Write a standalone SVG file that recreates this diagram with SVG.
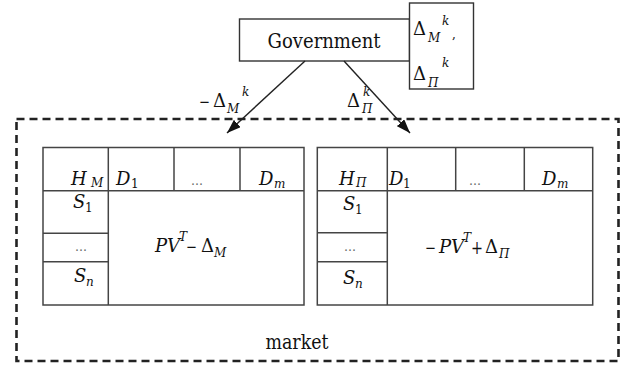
<svg xmlns="http://www.w3.org/2000/svg" width="622" height="365" viewBox="0 0 622 365">
<style>
text{font-family:"DejaVu Serif",serif;fill:#111}
.box{fill:#fff;stroke:#333;stroke-width:1.4}
.tl{fill:none;stroke:#444;stroke-width:1.5}
.m{font-size:18px}
.i{font-style:italic}
.s{font-size:12px}
.dots{font-size:12px;fill:#666}
.conn{stroke:#222;stroke-width:1.4;fill:none}
</style>
<defs>
<marker id="ah" viewBox="0 0 14 10" refX="14" refY="5" markerWidth="14" markerHeight="10" markerUnits="userSpaceOnUse" orient="auto">
<path d="M0,0 L14,5 L0,10 Z" fill="#111"/>
</marker>
</defs>
<rect width="622" height="365" fill="#fff"/>

<g id="market">
<rect x="16.5" y="119" width="602" height="242" fill="none" stroke="#222" stroke-width="2.6" stroke-dasharray="8,5"/>
<text x="265.5" y="349" font-size="20" textLength="63" lengthAdjust="spacingAndGlyphs">market</text>
</g>

<g id="government">
<rect class="box" x="239.5" y="19" width="170" height="42"/>
<text x="267.5" y="48" font-size="20" textLength="113" lengthAdjust="spacingAndGlyphs">Government</text>
</g>

<g id="delta-box">
<rect class="box" x="409.5" y="3" width="64" height="86"/>
<text x="413" y="35" class="m">Δ</text>
<text x="428" y="42" class="s i">M</text>
<text x="442" y="25" class="s i">k</text>
<text x="452" y="38" class="s">,</text>
<text x="413" y="80" class="m">Δ</text>
<text x="428" y="87" class="s i">П</text>
<text x="442" y="67" class="s i">k</text>
</g>

<g id="connectors">
<line class="conn" x1="305" y1="61" x2="227" y2="133" marker-end="url(#ah)"/>
<line class="conn" x1="344" y1="61" x2="410" y2="133" marker-end="url(#ah)"/>
<text x="199" y="108" class="m" textLength="11" lengthAdjust="spacingAndGlyphs">−</text>
<text x="213" y="107" class="m">Δ</text>
<text x="227" y="113" class="s i">M</text>
<text x="242" y="96" class="s i">k</text>
<text x="347" y="107" class="m">Δ</text>
<text x="362" y="113" class="s i">П</text>
<text x="363" y="96" class="s i">k</text>
</g>

<g id="table-M">
<rect class="tl" x="43" y="147.5" width="261" height="157.5"/>
<line class="tl" x1="43" y1="190.7" x2="304" y2="190.7"/>
<line class="tl" x1="108.3" y1="147.5" x2="108.3" y2="305"/>
<line class="tl" x1="174" y1="147.5" x2="174" y2="190.7"/>
<line class="tl" x1="240" y1="147.5" x2="240" y2="190.7"/>
<line class="tl" x1="43" y1="233.3" x2="108.3" y2="233.3"/>
<line class="tl" x1="43" y1="261.7" x2="108.3" y2="261.7"/>
<text x="71" y="185" class="m i">H</text><text x="91" y="187" class="s i">M</text>
<text x="116" y="185" class="m i">D</text><text x="131" y="188" class="s">1</text>
<text x="191" y="185" class="dots">…</text>
<text x="259" y="185" class="m i">D</text><text x="274" y="188" class="s i">m</text>
<text x="73" y="208" class="m i">S</text><text x="85" y="212" class="s">1</text>
<text x="74" y="282" class="m i">S</text><text x="86" y="286" class="s i">n</text>
<text x="75" y="251" class="dots">…</text>
<text x="155" y="252" class="m i">P</text><text x="167" y="252" class="m i">V</text><text x="179" y="241" class="s i">T</text>
<text x="186" y="253" class="m" textLength="11" lengthAdjust="spacingAndGlyphs">−</text>
<text x="201" y="252" class="m">Δ</text><text x="214" y="257" class="s i">M</text>
</g>

<g id="table-P">
<rect class="tl" x="317.3" y="147.5" width="275.4" height="157.5"/>
<line class="tl" x1="317.3" y1="190.7" x2="592.7" y2="190.7"/>
<line class="tl" x1="387.3" y1="147.5" x2="387.3" y2="305"/>
<line class="tl" x1="455.7" y1="147.5" x2="455.7" y2="190.7"/>
<line class="tl" x1="524.3" y1="147.5" x2="524.3" y2="190.7"/>
<line class="tl" x1="317.3" y1="232.7" x2="387.3" y2="232.7"/>
<line class="tl" x1="317.3" y1="261.7" x2="387.3" y2="261.7"/>
<text x="339" y="185" class="m i">H</text><text x="356" y="187" class="s i">П</text>
<text x="389" y="185" class="m i">D</text><text x="403" y="188" class="s">1</text>
<text x="469" y="185" class="dots">…</text>
<text x="542" y="185" class="m i">D</text><text x="557" y="188" class="s i">m</text>
<text x="343" y="210" class="m i">S</text><text x="355" y="214" class="s">1</text>
<text x="343" y="284" class="m i">S</text><text x="355" y="288" class="s i">n</text>
<text x="344" y="251" class="dots">…</text>
<text x="425" y="254" class="m" textLength="11" lengthAdjust="spacingAndGlyphs">−</text>
<text x="439" y="253" class="m i">P</text><text x="451" y="253" class="m i">V</text><text x="463" y="242" class="s i">T</text>
<text x="471" y="254" class="m" textLength="12" lengthAdjust="spacingAndGlyphs">+</text>
<text x="485" y="253" class="m">Δ</text><text x="499" y="258" class="s i">П</text>
</g>
</svg>
